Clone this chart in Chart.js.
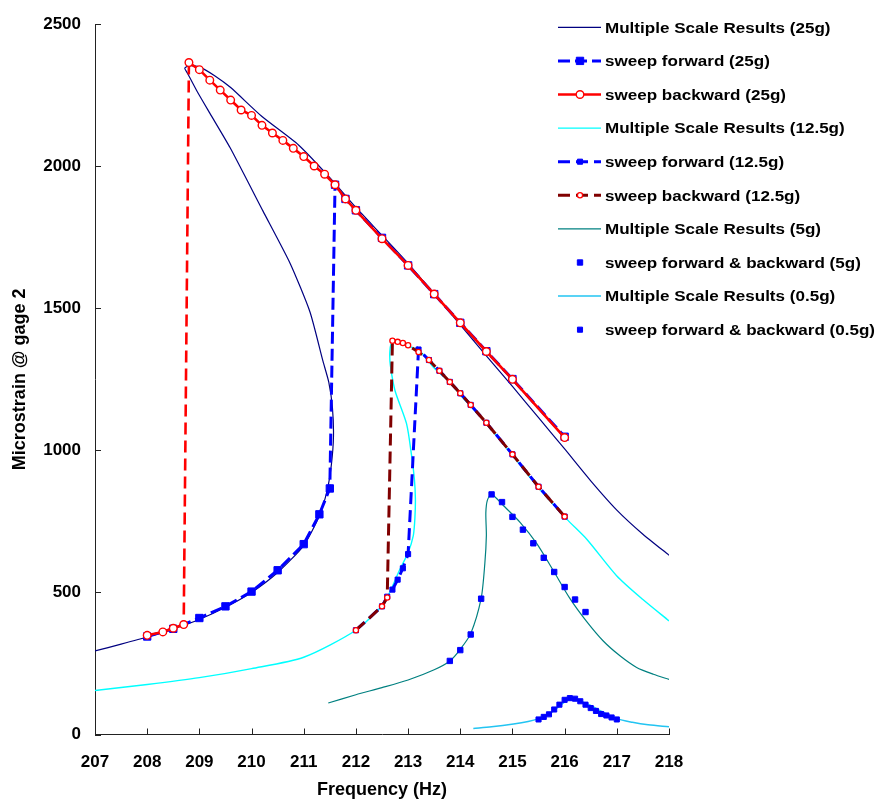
<!DOCTYPE html>
<html lang="en">

<head>
    <meta charset="UTF-8">
    <title>Microstrain at gage 2 versus frequency</title>
    <script src="https://cdn.jsdelivr.net/npm/chart.js@4.4.1/dist/chart.umd.min.js"></script>
    <style>
        body { margin: 0; background: #fff; }
    </style>
</head>

<body>
    <canvas id="myChart" width="880" height="805"></canvas>

    <script>
        // Multiple scale results, 25g (lower branch, fold, then upper branch)
        var ms25X = [207, 207.5, 208, 208.5, 209, 209.5, 210, 210.5, 211, 211.3, 211.45, 211.53, 211.57, 211.55, 211.48, 211.37,
            211.12, 210.74, 210.22, 209.59, 209.2, 208.95, 208.78, 208.72, 208.8, 209.0, 209.3, 209.6, 210.2, 210.9, 211.5,
            212, 212.5, 213, 213.5, 214, 214.5, 215, 215.5, 216, 216.5, 217, 217.5, 218];
        var ms25Y = [294, 318, 343, 372, 405, 448, 500, 570, 665, 770, 860, 950, 1050, 1150, 1240, 1313,
            1487, 1658, 1842, 2065, 2187, 2266, 2325, 2345, 2354, 2350, 2318, 2277, 2175, 2075, 1960,
            1855, 1757, 1658, 1550, 1442, 1333, 1225, 1115, 1005, 893, 790, 705, 631];

        // sweep forward, 25g
        var fwd25X = [208, 208.5, 209, 209.5, 210, 210.5, 211, 211.3, 211.5, 211.6, 211.8, 212, 212.5, 213, 213.5, 214, 214.5, 215, 216];
        var fwd25Y = [345, 372, 410, 451, 503, 578, 670, 775, 866, 1935, 1885, 1845, 1748, 1651, 1550, 1449, 1349, 1251, 1048];

        // sweep backward, 25g
        var bwd25X = [216, 215, 214.5, 214, 213.5, 213, 212.5, 212, 211.8, 211.6, 211.4, 211.2, 211, 210.8, 210.6, 210.4, 210.2,
            210, 209.8, 209.6, 209.4, 209.2, 209, 208.8, 208.7, 208.5, 208.3, 208];
        var bwd25Y = [1045, 1250, 1348, 1449, 1550, 1651, 1745, 1845, 1885, 1935, 1972, 2001, 2034, 2063, 2091, 2117, 2144,
            2179, 2198, 2233, 2268, 2303, 2340, 2365, 387, 374, 361, 349];

        // Multiple scale results, 12.5g
        var ms12X = [207, 208, 209, 210, 211, 212, 212.49, 212.6, 212.85, 213.0, 213.1, 213.13, 213.14, 213.12, 213.07, 212.97,
            212.75, 212.66, 212.65, 212.68, 212.75, 213.0, 213.23, 213.5, 213.8, 214.0, 214.51, 215.02, 215.53, 216.04, 216.42,
            217, 217.5, 218];
        var ms12Y = [155, 176, 200, 232, 272, 367, 451, 482, 584, 640, 700, 760, 830, 900, 978, 1094,
            1210, 1300, 1345, 1378, 1385, 1368, 1349, 1290, 1240, 1195, 1094, 978, 862, 758, 688,
            558, 475, 400];

        // sweep forward, 12.5g
        var fwd12X = [212, 212.5, 212.6, 212.7, 212.8, 212.9, 213, 213.2, 213.4, 213.6, 213.8, 214, 214.2, 214.5, 215, 215.5, 216];
        var fwd12Y = [367, 451, 485, 510, 545, 585, 635, 1355, 1318, 1280, 1241, 1201, 1160, 1097, 986, 872, 767];

        // sweep backward, 12.5g
        var bwd12X = [216, 215.5, 215, 214.5, 214.2, 214, 213.8, 213.6, 213.4, 213.2, 213, 212.9, 212.8, 212.7, 212.6, 212.5, 212];
        var bwd12Y = [767, 872, 986, 1097, 1160, 1201, 1241, 1280, 1318, 1346, 1370, 1378, 1382, 1386, 482, 451, 367];

        // Multiple scale results, 5g
        var ms5X = [211.47, 212, 212.5, 213, 213.5, 213.8, 214.0, 214.2, 214.4, 214.47, 214.5, 214.49, 214.52, 214.6, 214.83,
            215.15, 215.47, 215.78, 216.1, 216.42, 216.74, 217.06, 217.38, 217.7, 218];
        var ms5Y = [111, 140, 165, 192, 228, 259, 300, 355, 479, 600, 700, 780, 825, 845, 805,
            746, 671, 578, 479, 398, 329, 277, 236, 212, 194];

        // sweep forward & backward, 5g
        var sw5X = [213.8, 214, 214.2, 214.4, 214.6, 214.8, 215, 215.2, 215.4, 215.6, 215.8, 216, 216.2, 216.4];
        var sw5Y = [259, 297, 352, 478, 845, 818, 766, 721, 673, 622, 572, 519, 475, 431];

        // Multiple scale results, 0.5g
        var ms05X = [214.25, 214.6, 215.02, 215.3, 215.5, 215.7, 215.9, 216.1, 216.3, 216.49, 216.7, 217.0, 217.3, 217.6, 218];
        var ms05Y = [21, 27, 37, 46, 56, 72, 100, 126, 117, 103, 82, 56, 43, 34, 27];

        // sweep forward & backward, 0.5g
        var sw05X = [215.5, 215.6, 215.7, 215.8, 215.9, 216, 216.1, 216.2, 216.3, 216.4, 216.5, 216.6, 216.7, 216.8, 216.9, 217];
        var sw05Y = [53, 62, 71, 88, 105, 122, 128, 126, 117, 105, 93, 83, 72, 67, 60, 53];

        // axis ticks
        var xTicks = [207, 208, 209, 210, 211, 212, 213, 214, 215, 216, 217, 218];
        var yTicks = [0, 500, 1000, 1500, 2000, 2500];

        var FONT = "'Liberation Sans', Arial, sans-serif";

        function pts(xs, ys) {
            return xs.map(function (x, i) {
                return { x: x, y: ys[i] };
            });
        }

        // dash only the jump between branches
        function jumpDash(ctx) {
            return Math.abs(ctx.p1.parsed.y - ctx.p0.parsed.y) > 600 ? [12, 6] : undefined;
        }

        // tick marks pointing into the plot
        var innerTicks = {
            id: 'innerTicks',
            afterDraw: function (chart) {
                var ctx = chart.ctx;
                var xs = chart.scales.x, ys = chart.scales.y;
                ctx.save();
                ctx.strokeStyle = '#222';
                ctx.lineWidth = 1;
                ctx.beginPath();
                xTicks.forEach(function (v) {
                    var px = Math.round(xs.getPixelForValue(v)) + 0.5;
                    ctx.moveTo(px, ys.bottom);
                    ctx.lineTo(px, ys.bottom - 6);
                });
                yTicks.forEach(function (v) {
                    var py = Math.round(ys.getPixelForValue(v)) + 0.5;
                    ctx.moveTo(xs.left, py);
                    ctx.lineTo(xs.left + 6, py);
                });
                ctx.stroke();
                ctx.restore();
            }
        };

        // legend in the upper right corner
        var sideLegend = {
            id: 'sideLegend',
            afterDraw: function (chart) {
                var ctx = chart.ctx;
                ctx.save();
                chart.data.datasets.forEach(function (ds, i) {
                    var y = 27.3 + i * 33.6;
                    if (ds.showLine !== false) {
                        ctx.beginPath();
                        ctx.setLineDash(ds.borderDash || []);
                        ctx.lineWidth = ds.borderWidth;
                        ctx.strokeStyle = ds.borderColor;
                        ctx.moveTo(558, y);
                        ctx.lineTo(601, y);
                        ctx.stroke();
                    }
                    ctx.setLineDash([]);
                    if (ds.pointRadius > 0) {
                        var r = ds.pointRadius;
                        ctx.beginPath();
                        if (ds.pointStyle === 'rect') {
                            var h = r * Math.SQRT1_2;
                            ctx.rect(580 - h, y - h, 2 * h, 2 * h);
                        } else {
                            ctx.arc(580, y, r, 0, Math.PI * 2);
                        }
                        ctx.fillStyle = ds.pointBackgroundColor;
                        ctx.fill();
                        ctx.lineWidth = ds.pointBorderWidth;
                        ctx.strokeStyle = ds.pointBorderColor;
                        ctx.stroke();
                    }
                    ctx.save();
                    ctx.translate(605, y);
                    ctx.scale(1.1, 1);
                    ctx.font = 'bold 15.5px ' + FONT;
                    ctx.fillStyle = '#000';
                    ctx.textBaseline = 'middle';
                    ctx.fillText(ds.label, 0, 1);
                    ctx.restore();
                });
                ctx.restore();
            }
        };

        var chart = new Chart(document.getElementById('myChart'), {
            type: 'line',
            data: {
                datasets: [{
                    label: 'Multiple Scale Results (25g)',
                    data: pts(ms25X, ms25Y),
                    borderColor: '#000080',
                    borderWidth: 1.2,
                    pointRadius: 0,
                    tension: 0.2,
                    order: 3
                }, {
                    label: 'sweep forward (25g)',
                    data: pts(fwd25X, fwd25Y),
                    borderColor: '#0000FF',
                    borderWidth: 3,
                    borderDash: [12, 5],
                    pointStyle: 'rect',
                    pointRadius: 5.2,
                    pointBackgroundColor: '#0000FF',
                    pointBorderColor: '#0000FF',
                    pointBorderWidth: 1,
                    order: 2
                }, {
                    label: 'sweep backward (25g)',
                    data: pts(bwd25X, bwd25Y),
                    borderColor: '#FF0000',
                    borderWidth: 2.6,
                    segment: { borderDash: jumpDash },
                    pointStyle: 'circle',
                    pointRadius: 3.8,
                    pointBackgroundColor: '#FFFFFF',
                    pointBorderColor: '#FF0000',
                    pointBorderWidth: 1.4,
                    order: 1
                }, {
                    label: 'Multiple Scale Results (12.5g)',
                    data: pts(ms12X, ms12Y),
                    borderColor: '#00FFFF',
                    borderWidth: 1.4,
                    pointRadius: 0,
                    tension: 0.25,
                    order: 3
                }, {
                    label: 'sweep forward (12.5g)',
                    data: pts(fwd12X, fwd12Y),
                    borderColor: '#0000FF',
                    borderWidth: 3,
                    borderDash: [12, 6],
                    pointStyle: 'rect',
                    pointRadius: 3.6,
                    pointBackgroundColor: '#0000FF',
                    pointBorderColor: '#0000FF',
                    pointBorderWidth: 1,
                    order: 2
                }, {
                    label: 'sweep backward (12.5g)',
                    data: pts(bwd12X, bwd12Y),
                    borderColor: '#800000',
                    borderWidth: 3,
                    borderDash: [12, 6],
                    pointStyle: 'circle',
                    pointRadius: 2.6,
                    pointBackgroundColor: '#FFFFFF',
                    pointBorderColor: '#FF0000',
                    pointBorderWidth: 1.3,
                    order: 1
                }, {
                    label: 'Multiple Scale Results (5g)',
                    data: pts(ms5X, ms5Y),
                    borderColor: '#008080',
                    borderWidth: 1.2,
                    pointRadius: 0,
                    tension: 0.25,
                    order: 3
                }, {
                    label: 'sweep forward & backward (5g)',
                    data: pts(sw5X, sw5Y),
                    showLine: false,
                    borderColor: '#0000FF',
                    pointStyle: 'rect',
                    pointRadius: 3.8,
                    pointBackgroundColor: '#0000FF',
                    pointBorderColor: '#0000FF',
                    pointBorderWidth: 1,
                    order: 1
                }, {
                    label: 'Multiple Scale Results (0.5g)',
                    data: pts(ms05X, ms05Y),
                    borderColor: '#22C4F2',
                    borderWidth: 1.5,
                    pointRadius: 0,
                    tension: 0.3,
                    order: 3
                }, {
                    label: 'sweep forward & backward (0.5g)',
                    data: pts(sw05X, sw05Y),
                    showLine: false,
                    borderColor: '#0000FF',
                    pointStyle: 'rect',
                    pointRadius: 3.6,
                    pointBackgroundColor: '#0000FF',
                    pointBorderColor: '#0000FF',
                    pointBorderWidth: 1,
                    order: 1
                }]
            },
            options: {
                responsive: false,
                animation: false,
                devicePixelRatio: 1,
                layout: { padding: { top: 16, right: 211, bottom: 0, left: 0 } },
                plugins: {
                    legend: { display: false },
                    tooltip: { enabled: false }
                },
                scales: {
                    x: {
                        type: 'linear',
                        min: 207,
                        max: 218,
                        afterFit: function (s) { s.height = 70.5; },
                        afterBuildTicks: function (s) {
                            s.ticks = xTicks.map(function (v) { return { value: v }; });
                        },
                        grid: { display: false, drawTicks: false },
                        border: { display: true, color: '#222', width: 1 },
                        ticks: {
                            padding: 18,
                            maxRotation: 0,
                            color: '#000',
                            callback: function (v) { return String(v); },
                            font: { family: FONT, size: 17, weight: 'bold' }
                        },
                        title: {
                            display: true,
                            text: 'Frequency (Hz)',
                            color: '#000',
                            padding: { top: 0, bottom: 4 },
                            font: { family: FONT, size: 18, weight: 'bold' }
                        }
                    },
                    y: {
                        min: 0,
                        max: 2500,
                        afterFit: function (s) { s.width = 95; },
                        afterBuildTicks: function (s) {
                            s.ticks = yTicks.map(function (v) { return { value: v }; });
                        },
                        grid: { display: false, drawTicks: false },
                        border: { display: true, color: '#222', width: 1 },
                        ticks: {
                            padding: 14,
                            color: '#000',
                            callback: function (v) { return String(v); },
                            font: { family: FONT, size: 17, weight: 'bold' }
                        },
                        title: {
                            display: true,
                            text: 'Microstrain @ gage 2',
                            color: '#000',
                            padding: { top: 9, bottom: 0 },
                            font: { family: FONT, size: 18, weight: 'bold' }
                        }
                    }
                }
            },
            plugins: [innerTicks, sideLegend]
        });
    </script>
</body>

</html>
